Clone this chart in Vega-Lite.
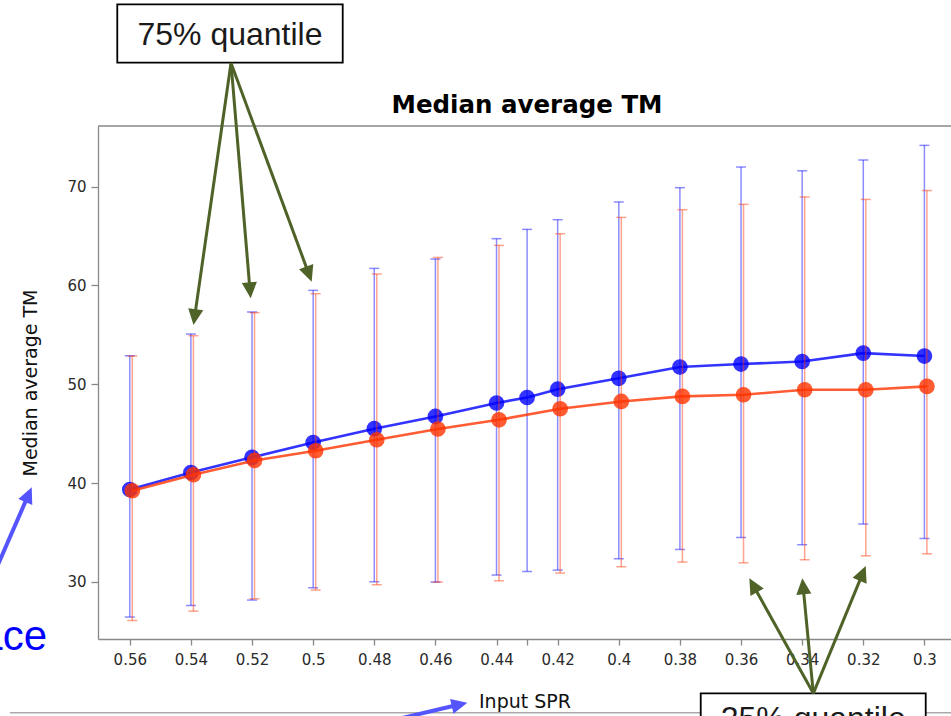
{
  "$schema": "https://vega.github.io/schema/vega-lite/v6.json",
  "width": 853,
  "height": 513,
  "autosize": {"type": "none"},
  "padding": {"left": 98, "top": 126, "right": 0, "bottom": 77},
  "background": "white",
  "config": {
    "view": {"stroke": null},
    "font": "DejaVu Sans",
    "axis": {
      "grid": false,
      "domainColor": "#888888",
      "domainWidth": 1.3,
      "tickColor": "#888888",
      "tickWidth": 1.3,
      "labelColor": "#2a2a2a",
      "labelFont": "DejaVu Sans",
      "labelFontSize": 15,
      "titleFont": "DejaVu Sans",
      "titleFontSize": 19,
      "titleFontWeight": "normal",
      "titleColor": "#111111"
    }
  },
  "datasets": {
    "tm": [
      {"s": "B", "spr": 0.56, "med": 39.35, "lo": 26.44, "hi": 52.88},
      {"s": "B", "spr": 0.54, "med": 41.07, "lo": 27.61, "hi": 55.08},
      {"s": "B", "spr": 0.52, "med": 42.6, "lo": 28.16, "hi": 57.31},
      {"s": "B", "spr": 0.5, "med": 44.1, "lo": 29.4, "hi": 59.5},
      {"s": "B", "spr": 0.48, "med": 45.5, "lo": 30.01, "hi": 61.72},
      {"s": "B", "spr": 0.46, "med": 46.74, "lo": 29.98, "hi": 62.67},
      {"s": "B", "spr": 0.44, "med": 48.1, "lo": 30.69, "hi": 64.73},
      {"s": "B", "spr": 0.43, "med": 48.66, "lo": 31.05, "hi": 65.67},
      {"s": "B", "spr": 0.42, "med": 49.5, "lo": 31.19, "hi": 66.65},
      {"s": "B", "spr": 0.4, "med": 50.6, "lo": 32.34, "hi": 68.44},
      {"s": "B", "spr": 0.38, "med": 51.74, "lo": 33.28, "hi": 69.89},
      {"s": "B", "spr": 0.36, "med": 52.04, "lo": 34.49, "hi": 71.98},
      {"s": "B", "spr": 0.34, "med": 52.3, "lo": 33.76, "hi": 71.6},
      {"s": "B", "spr": 0.32, "med": 53.15, "lo": 35.85, "hi": 72.69},
      {"s": "B", "spr": 0.3, "med": 52.85, "lo": 34.39, "hi": 74.17},
      {"s": "R", "spr": 0.56, "med": 39.22, "lo": 26.09, "hi": 52.85},
      {"s": "R", "spr": 0.54, "med": 40.84, "lo": 27.04, "hi": 54.91},
      {"s": "R", "spr": 0.52, "med": 42.29, "lo": 28.29, "hi": 57.24},
      {"s": "R", "spr": 0.5, "med": 43.27, "lo": 29.17, "hi": 59.16},
      {"s": "R", "spr": 0.48, "med": 44.38, "lo": 29.71, "hi": 61.15},
      {"s": "R", "spr": 0.46, "med": 45.47, "lo": 29.98, "hi": 62.83},
      {"s": "R", "spr": 0.44, "med": 46.4, "lo": 30.11, "hi": 64.05},
      {"s": "R", "spr": 0.42, "med": 47.52, "lo": 30.89, "hi": 65.23},
      {"s": "R", "spr": 0.4, "med": 48.26, "lo": 31.53, "hi": 66.88},
      {"s": "R", "spr": 0.38, "med": 48.77, "lo": 32.0, "hi": 67.66},
      {"s": "R", "spr": 0.36, "med": 48.94, "lo": 31.93, "hi": 68.2},
      {"s": "R", "spr": 0.34, "med": 49.44, "lo": 32.24, "hi": 68.95},
      {"s": "R", "spr": 0.32, "med": 49.44, "lo": 32.64, "hi": 68.7},
      {"s": "R", "spr": 0.3, "med": 49.78, "lo": 32.84, "hi": 69.6}
    ],
    "boxes": [
      {"x": 0.56409, "x2": 0.49033, "y": 88.445, "y2": 82.535},
      {"x": 0.37319, "x2": 0.29957, "y": 18.725, "y2": 11.976}
    ],
    "labels": [
      {"x": 0.52721, "y": 84.33, "t": "75% quantile"},
      {"x": 0.33638, "y": 15.11, "t": "25% quantile"}
    ],
    "chartTitle": [
      {"x": 0.43003, "y": 77.45, "t": "Median average TM"}
    ],
    "greenArrows": [
      {"x": 0.52688, "y": 82.505, "x2": 0.53879, "y2": 56.793},
      {"x": 0.52688, "y": 82.505, "x2": 0.52067, "y2": 59.505},
      {"x": 0.52688, "y": 82.505, "x2": 0.50139, "y2": 61.134},
      {"x": 0.33635, "y": 18.725, "x2": 0.35602, "y2": 29.654},
      {"x": 0.33635, "y": 18.725, "x2": 0.33969, "y2": 29.553},
      {"x": 0.33635, "y": 18.725, "x2": 0.32019, "y2": 30.858}
    ],
    "blueArrows": [
      {"x": 0.60737, "y": 28.733, "x2": 0.59314, "y2": 38.832},
      {"x": 0.48058, "y": 15.518, "x2": 0.45212, "y2": 17.592}
    ],
    "slideLine": [
      {"x": 0.59919, "x2": 0.28835, "y": 16.763}
    ],
    "sideText": [
      {"x": 0.58709, "y": 23.107, "t": "ace"}
    ],
    "one": [{}]
  },
  "layer": [
    {
      "data": {"name": "tm"},
      "transform": [{"filter": "datum.s == 'B'"}],
      "mark": {"type": "rule", "color": "#0000ff", "opacity": 0.45, "strokeWidth": 1.5},
      "encoding": {
        "x": {"field": "spr", "type": "quantitative", "scale": {"domain": [0.2913, 0.5704], "reverse": true, "nice": false, "zero": false},
          "axis": {"title": "Input SPR", "values": [0.56, 0.54, 0.52, 0.5, 0.48, 0.46, 0.44, 0.43, 0.42, 0.4, 0.38, 0.36, 0.34, 0.32, 0.3], "labelExpr": "datum.value == 0.43 ? '' : format(datum.value, '~g')", "tickSize": 6, "labelPadding": 7, "titlePadding": 25, "labelFlush": false, "labelOverlap": false}},
        "y": {"field": "lo", "type": "quantitative", "scale": {"domain": [24.22, 76.13], "nice": false, "zero": false},
          "axis": {"title": "Median average TM", "values": [30, 40, 50, 60, 70], "tickSize": 7, "labelPadding": 5, "titlePadding": 26}},
        "y2": {"field": "hi"}
      }
    },
    {
      "data": {"name": "tm"},
      "transform": [{"filter": "datum.s == 'B'"}, {"fold": ["lo", "hi"], "as": ["k", "v"]}],
      "mark": {"type": "tick", "orient": "horizontal", "color": "#0000ff", "opacity": 0.45, "size": 10, "thickness": 1.5},
      "encoding": {
        "x": {"field": "spr", "type": "quantitative"},
        "y": {"field": "v", "type": "quantitative"}
      }
    },
    {
      "data": {"name": "tm"},
      "transform": [{"filter": "datum.s == 'B'"}],
      "mark": {"type": "line", "color": "#0000ff", "opacity": 0.8, "strokeWidth": 2.6},
      "encoding": {
        "x": {"field": "spr", "type": "quantitative"},
        "y": {"field": "med", "type": "quantitative"}
      }
    },
    {
      "data": {"name": "tm"},
      "transform": [{"filter": "datum.s == 'B'"}],
      "mark": {"type": "circle", "color": "#0000ff", "opacity": 0.8, "size": 245},
      "encoding": {
        "x": {"field": "spr", "type": "quantitative"},
        "y": {"field": "med", "type": "quantitative"}
      }
    },
    {
      "data": {"name": "tm"},
      "transform": [{"filter": "datum.s == 'R'"}],
      "mark": {"type": "rule", "color": "#ff3300", "opacity": 0.45, "strokeWidth": 1.5, "xOffset": 2.5},
      "encoding": {
        "x": {"field": "spr", "type": "quantitative"},
        "y": {"field": "lo", "type": "quantitative"},
        "y2": {"field": "hi"}
      }
    },
    {
      "data": {"name": "tm"},
      "transform": [{"filter": "datum.s == 'R'"}, {"fold": ["lo", "hi"], "as": ["k", "v"]}],
      "mark": {"type": "tick", "orient": "horizontal", "color": "#ff3300", "opacity": 0.45, "size": 10, "thickness": 1.5, "xOffset": 2.5},
      "encoding": {
        "x": {"field": "spr", "type": "quantitative"},
        "y": {"field": "v", "type": "quantitative"}
      }
    },
    {
      "data": {"name": "tm"},
      "transform": [{"filter": "datum.s == 'R'"}],
      "mark": {"type": "line", "color": "#ff3300", "opacity": 0.8, "strokeWidth": 2.6, "xOffset": 2.5},
      "encoding": {
        "x": {"field": "spr", "type": "quantitative"},
        "y": {"field": "med", "type": "quantitative"}
      }
    },
    {
      "data": {"name": "tm"},
      "transform": [{"filter": "datum.s == 'R'"}],
      "mark": {"type": "circle", "color": "#ff3300", "opacity": 0.8, "size": 245, "xOffset": 2.5},
      "encoding": {
        "x": {"field": "spr", "type": "quantitative"},
        "y": {"field": "med", "type": "quantitative"}
      }
    },
    {
      "data": {"name": "one"},
      "mark": {"type": "rule", "color": "#888888", "strokeWidth": 1.3},
      "encoding": {
        "y": {"datum": 76.13, "type": "quantitative"}
      }
    },
    {
      "data": {"name": "slideLine"},
      "mark": {"type": "rule", "color": "#aaaaaa", "strokeWidth": 1.5, "clip": false},
      "encoding": {
        "x": {"field": "x", "type": "quantitative"},
        "x2": {"field": "x2"},
        "y": {"field": "y", "type": "quantitative"}
      }
    },
    {
      "data": {"name": "boxes"},
      "mark": {"type": "rect", "fill": "white", "stroke": "#000000", "strokeWidth": 1.8, "clip": false},
      "encoding": {
        "x": {"field": "x", "type": "quantitative"},
        "x2": {"field": "x2"},
        "y": {"field": "y", "type": "quantitative"},
        "y2": {"field": "y2"}
      }
    },
    {
      "data": {"name": "labels"},
      "mark": {"type": "text", "font": "Liberation Sans", "fontSize": 32, "color": "#1a1a1a", "align": "center", "baseline": "alphabetic", "clip": false},
      "encoding": {
        "x": {"field": "x", "type": "quantitative"},
        "y": {"field": "y", "type": "quantitative"},
        "text": {"field": "t"}
      }
    },
    {
      "data": {"name": "chartTitle"},
      "mark": {"type": "text", "font": "DejaVu Sans", "fontSize": 24.5, "fontWeight": "bold", "color": "#000000", "align": "center", "baseline": "alphabetic", "clip": false},
      "encoding": {
        "x": {"field": "x", "type": "quantitative"},
        "y": {"field": "y", "type": "quantitative"},
        "text": {"field": "t"}
      }
    },
    {
      "data": {"name": "sideText"},
      "mark": {"type": "text", "font": "Liberation Sans", "fontSize": 42, "color": "#0000ff", "align": "right", "baseline": "alphabetic", "clip": false},
      "encoding": {
        "x": {"field": "x", "type": "quantitative"},
        "y": {"field": "y", "type": "quantitative"},
        "text": {"field": "t"}
      }
    },
    {
      "data": {"name": "greenArrows"},
      "mark": {"type": "rule", "color": "#4f6228", "strokeWidth": 3, "clip": false},
      "encoding": {
        "x": {"field": "x", "type": "quantitative"},
        "x2": {"field": "x2"},
        "y": {"field": "y", "type": "quantitative"},
        "y2": {"field": "y2"}
      }
    },
    {
      "data": {"name": "blueArrows"},
      "mark": {"type": "rule", "color": "#5555ff", "strokeWidth": 4, "clip": false},
      "encoding": {
        "x": {"field": "x", "type": "quantitative"},
        "x2": {"field": "x2"},
        "y": {"field": "y", "type": "quantitative"},
        "y2": {"field": "y2"}
      }
    },
    {"data": {"name": "one"}, "mark": {"type": "point", "shape": "M0,0L0.9,1.9L-0.9,1.9Z", "filled": true, "size": 282, "opacity": 1, "color": "#4f6228", "angle": 188.15, "clip": false},
     "encoding": {"x": {"datum": 0.53915, "type": "quantitative"}, "y": {"datum": 55.993, "type": "quantitative"}}},
    {"data": {"name": "one"}, "mark": {"type": "point", "shape": "M0,0L0.9,1.9L-0.9,1.9Z", "filled": true, "size": 282, "opacity": 1, "color": "#4f6228", "angle": 175.2, "clip": false},
     "encoding": {"x": {"datum": 0.52044, "type": "quantitative"}, "y": {"datum": 58.695, "type": "quantitative"}}},
    {"data": {"name": "one"}, "mark": {"type": "point", "shape": "M0,0L0.9,1.9L-0.9,1.9Z", "filled": true, "size": 282, "opacity": 1, "color": "#4f6228", "angle": 159.75, "clip": false},
     "encoding": {"x": {"datum": 0.50048, "type": "quantitative"}, "y": {"datum": 60.375, "type": "quantitative"}}},
    {"data": {"name": "one"}, "mark": {"type": "point", "shape": "M0,0L0.9,1.9L-0.9,1.9Z", "filled": true, "size": 282, "opacity": 1, "color": "#4f6228", "angle": -29.1, "clip": false},
     "encoding": {"x": {"datum": 0.35729, "type": "quantitative"}, "y": {"datum": 30.362, "type": "quantitative"}}},
    {"data": {"name": "one"}, "mark": {"type": "point", "shape": "M0,0L0.9,1.9L-0.9,1.9Z", "filled": true, "size": 282, "opacity": 1, "color": "#4f6228", "angle": -5.46, "clip": false},
     "encoding": {"x": {"datum": 0.33995, "type": "quantitative"}, "y": {"datum": 30.362, "type": "quantitative"}}},
    {"data": {"name": "one"}, "mark": {"type": "point", "shape": "M0,0L0.9,1.9L-0.9,1.9Z", "filled": true, "size": 282, "opacity": 1, "color": "#4f6228", "angle": 22.37, "clip": false},
     "encoding": {"x": {"datum": 0.31921, "type": "quantitative"}, "y": {"datum": 31.607, "type": "quantitative"}}},
    {"data": {"name": "one"}, "mark": {"type": "point", "shape": "M0,0L0.9,1.9L-0.9,1.9Z", "filled": true, "size": 282, "opacity": 1, "color": "#5555ff", "angle": 23.56, "clip": false},
     "encoding": {"x": {"datum": 0.59209, "type": "quantitative"}, "y": {"datum": 39.57, "type": "quantitative"}}},
    {"data": {"name": "one"}, "mark": {"type": "point", "shape": "M0,0L0.9,1.9L-0.9,1.9Z", "filled": true, "size": 282, "opacity": 1, "color": "#5555ff", "angle": 76.8, "clip": false},
     "encoding": {"x": {"datum": 0.44956, "type": "quantitative"}, "y": {"datum": 17.774, "type": "quantitative"}}}
  ]
}
